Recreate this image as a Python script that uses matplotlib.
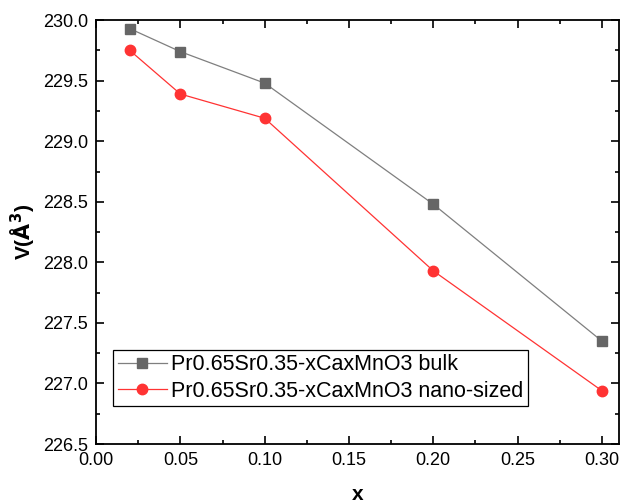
import matplotlib
matplotlib.use('Agg')
import matplotlib.pyplot as plt
from matplotlib.ticker import MultipleLocator

# ------------- Datos -------------
x = [0.02, 0.05, 0.10, 0.20, 0.30]
v_bulk = [229.93, 229.74, 229.48, 228.48, 227.35]
v_nano = [229.75, 229.39, 229.19, 227.93, 226.94]
lbl_bulk = "Pr0.65Sr0.35-xCaxMnO3 bulk"
lbl_nano = "Pr0.65Sr0.35-xCaxMnO3 nano-sized"

plt.rcParams['font.family'] = ['Liberation Sans', 'DejaVu Sans']

fig = plt.figure(figsize=(6.2, 5.04), dpi=100)
ax = fig.add_axes([0.155, 0.119, 0.843, 0.841])

ax.plot(x, v_bulk, color='#7f7f7f', lw=0.9, marker='s', ms=7,
        mfc='#666666', mec='#666666', label=lbl_bulk)
ax.plot(x, v_nano, color='#ff3333', lw=0.9, marker='o', ms=7.5,
        mfc='#ff3333', mec='#ff3333', label=lbl_nano)

ax.set_xlim(0, 0.31)
ax.set_ylim(226.5, 230.0)
ax.xaxis.set_major_locator(MultipleLocator(0.05))
ax.xaxis.set_minor_locator(MultipleLocator(0.025))
ax.yaxis.set_major_locator(MultipleLocator(0.5))
ax.yaxis.set_minor_locator(MultipleLocator(0.25))
ax.xaxis.set_major_formatter(plt.FormatStrFormatter('%.2f'))
ax.yaxis.set_major_formatter(plt.FormatStrFormatter('%.1f'))

ax.tick_params(which='both', direction='in', top=True, right=True, width=1.2)
ax.tick_params(which='major', length=6, labelsize=13, pad=6)
ax.tick_params(which='minor', length=3)
for s in ax.spines.values():
    s.set_linewidth(1.3)

ax.set_xlabel('x', fontsize=15, fontweight='bold', labelpad=11)
ax.set_ylabel(r'V($\mathbf{\AA^3}$)', fontsize=15, fontweight='bold', labelpad=4)

leg = ax.legend(loc='lower left', bbox_to_anchor=(0.033, 0.09), borderaxespad=0,
                fontsize=15.5, fancybox=False, edgecolor='black', framealpha=1,
                handlelength=2.3, borderpad=0.2, labelspacing=0.25, handletextpad=0.2)
leg.get_frame().set_linewidth(0.9)

fig.savefig('out.png', dpi=100)
